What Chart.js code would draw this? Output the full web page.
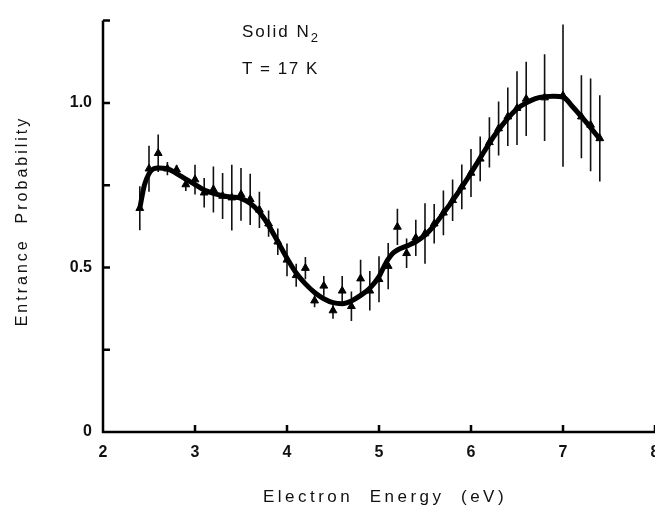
<!DOCTYPE html>
<html>
<head>
<meta charset="utf-8">
<script src="https://cdn.jsdelivr.net/npm/chart.js@4"></script>
<style>
  html, body { margin: 0; padding: 0; background: #fff; overflow: hidden; }
  #wrap { width: 655px; height: 509px; overflow: hidden; }
  #box { width: 680px; height: 509px; }
</style>
</head>
<body>
<div id="wrap"><div id="box"><canvas id="chart"></canvas></div></div>
<script>
// measured points (triangles) with error bars
const energy = [2.4, 2.5, 2.6, 2.7, 2.8, 2.9, 3.0, 3.1, 3.2, 3.3, 3.4, 3.5, 3.6, 3.7, 3.8, 3.9,
  4.0, 4.1, 4.2, 4.3, 4.4, 4.5, 4.6, 4.7, 4.8, 4.9, 5.0, 5.1, 5.2, 5.3, 5.4, 5.5, 5.6, 5.7,
  5.8, 5.9, 6.0, 6.1, 6.2, 6.3, 6.4, 6.5, 6.6, 6.8, 7.0, 7.2, 7.3, 7.4];
const prob = [0.68, 0.80, 0.847, 0.80, 0.797, 0.752, 0.767, 0.727, 0.737, 0.717, 0.712, 0.722, 0.707, 0.675, 0.633, 0.578,
  0.523, 0.476, 0.498, 0.399, 0.444, 0.369, 0.429, 0.382, 0.466, 0.429, 0.464, 0.504, 0.623, 0.543, 0.59, 0.603, 0.633, 0.666,
  0.704, 0.745, 0.787, 0.83, 0.88, 0.922, 0.958, 0.984, 1.012, 1.016, 1.022, 0.958, 0.933, 0.892];
const err = [0.067, 0.07, 0.057, 0.02, 0.015, 0.02, 0.045, 0.045, 0.07, 0.07, 0.10, 0.08, 0.078, 0.055, 0.04, 0.04,
  0.05, 0.035, 0.034, 0.02, 0.03, 0.025, 0.045, 0.045, 0.057, 0.06, 0.07, 0.07, 0.055, 0.045, 0.055, 0.092, 0.06, 0.068,
  0.063, 0.068, 0.073, 0.068, 0.076, 0.082, 0.089, 0.112, 0.113, 0.132, 0.216, 0.126, 0.141, 0.131];

// smooth fitted curve
const curveE = [2.4, 2.45, 2.5, 2.55, 2.6, 2.7, 2.8, 2.9, 3.0, 3.1, 3.2, 3.3, 3.4, 3.5, 3.6, 3.7, 3.8, 3.9,
  4.0, 4.1, 4.2, 4.3, 4.4, 4.5, 4.6, 4.7, 4.8, 4.9, 5.0, 5.05, 5.1, 5.15, 5.2, 5.3, 5.4, 5.5, 5.6, 5.7, 5.8, 5.9,
  6.0, 6.1, 6.2, 6.3, 6.4, 6.5, 6.6, 6.7, 6.8, 6.9, 7.0, 7.1, 7.2, 7.3, 7.4];
const curveP = [0.68, 0.75, 0.785, 0.80, 0.802, 0.80, 0.785, 0.768, 0.752, 0.735, 0.725, 0.718, 0.714, 0.71, 0.695, 0.668, 0.628, 0.578,
  0.528, 0.483, 0.45, 0.424, 0.405, 0.393, 0.39, 0.398, 0.415, 0.437, 0.472, 0.5, 0.525, 0.543, 0.553, 0.565, 0.578, 0.598, 0.628, 0.665, 0.703, 0.744,
  0.787, 0.832, 0.878, 0.918, 0.953, 0.982, 1.0, 1.013, 1.019, 1.02, 1.018, 0.99, 0.958, 0.925, 0.89];

const xTicks = [2, 3, 4, 5, 6, 7, 8];
const yLabels = {0: '0', 0.5: '0.5', 1: '1.0'};

const FONT = '"Liberation Sans", Arial, sans-serif';

const points = energy.map((e, i) => ({x: e, y: prob[i]}));
const curve = curveE.map((e, i) => ({x: e, y: curveP[i]}));

const errorBars = {
  id: 'errorBars',
  beforeDatasetsDraw(chart) {
    const {ctx, scales: {x, y}} = chart;
    ctx.save();
    ctx.strokeStyle = '#111';
    ctx.lineWidth = 1.6;
    ctx.beginPath();
    energy.forEach((e, i) => {
      const px = x.getPixelForValue(e);
      ctx.moveTo(px, y.getPixelForValue(prob[i] + err[i]));
      ctx.lineTo(px, y.getPixelForValue(prob[i] - err[i]));
    });
    ctx.stroke();
    ctx.restore();
  }
};

const axesAndText = {
  id: 'axesAndText',
  afterDraw(chart) {
    const {ctx, scales: {x, y}} = chart;
    const left = x.getPixelForValue(2), bottom = y.getPixelForValue(0);
    ctx.save();
    ctx.strokeStyle = '#000';
    ctx.lineWidth = 2.5;
    ctx.beginPath();
    ctx.moveTo(left, y.getPixelForValue(1.25));
    ctx.lineTo(left, bottom);
    ctx.lineTo(x.getPixelForValue(8) + 5, bottom);
    [0.25, 0.5, 0.75, 1, 1.25].forEach(v => {
      const py = y.getPixelForValue(v);
      ctx.moveTo(left, py); ctx.lineTo(left + 7, py);
    });
    xTicks.slice(1).forEach(v => {
      const px = x.getPixelForValue(v);
      ctx.moveTo(px, bottom); ctx.lineTo(px, bottom - 7);
    });
    ctx.stroke();

    ctx.fillStyle = '#111';
    ctx.letterSpacing = '3.5px';
    ctx.font = '17px ' + FONT;
    ctx.textAlign = 'center';
    ctx.textBaseline = 'middle';
    ctx.fillText('Electron  Energy  (eV)', 385, 497);
    ctx.letterSpacing = '3px';
    ctx.font = '16px ' + FONT;
    ctx.save();
    ctx.translate(23, 221);
    ctx.rotate(-Math.PI / 2);
    ctx.fillText('Entrance  Probability', 0, 0);
    ctx.restore();

    ctx.letterSpacing = '2px';
    ctx.textAlign = 'left';
    ctx.textBaseline = 'alphabetic';
    ctx.font = '17px ' + FONT;
    ctx.fillText('Solid N', 242, 37);
    const w = ctx.measureText('Solid N').width;
    ctx.font = '13px ' + FONT;
    ctx.fillText('2', 242 + w, 42);
    ctx.font = '17px ' + FONT;
    ctx.letterSpacing = '1.5px';
    ctx.fillText('T = 17 K', 242, 74);
    ctx.restore();
  }
};

new Chart(document.getElementById('chart'), {
  type: 'line',
  data: {
    datasets: [
      {
        data: curve,
        borderColor: '#000',
        borderWidth: 5,
        pointRadius: 0,
        fill: false,
        cubicInterpolationMode: 'monotone',
        order: 1
      },
      {
        data: points,
        showLine: false,
        pointStyle: 'triangle',
        pointRadius: 4.5,
        pointBackgroundColor: '#000',
        pointBorderColor: '#000',
        pointBorderWidth: 1,
        order: 0
      }
    ]
  },
  options: {
    responsive: true,
    maintainAspectRatio: false,
    animation: false,
    layout: {padding: {top: 13, right: 25, left: 0, bottom: 0}},
    plugins: {legend: {display: false}, tooltip: {enabled: false}},
    scales: {
      x: {
        type: 'linear',
        min: 2, max: 8,
        afterFit(s) { s.height = 77; },
        afterBuildTicks(s) { s.ticks = xTicks.map(v => ({value: v})); },
        grid: {display: false, drawTicks: false},
        border: {display: false},
        ticks: {
          padding: 11,
          color: '#111',
          maxRotation: 0,
          autoSkip: false,
          font: {family: FONT, size: 16, weight: 'bold'}
        }
      },
      y: {
        type: 'linear',
        min: 0, max: 1.25,
        afterFit(s) { s.width = 103; },
        grid: {display: false, drawTicks: false},
        border: {display: false},
        ticks: {
          stepSize: 0.25,
          padding: 11,
          color: '#111',
          font: {family: FONT, size: 16, weight: 'bold'},
          callback: v => (yLabels[v] !== undefined ? yLabels[v] : '')
        }
      }
    }
  },
  plugins: [errorBars, axesAndText]
});
</script>
</body>
</html>
